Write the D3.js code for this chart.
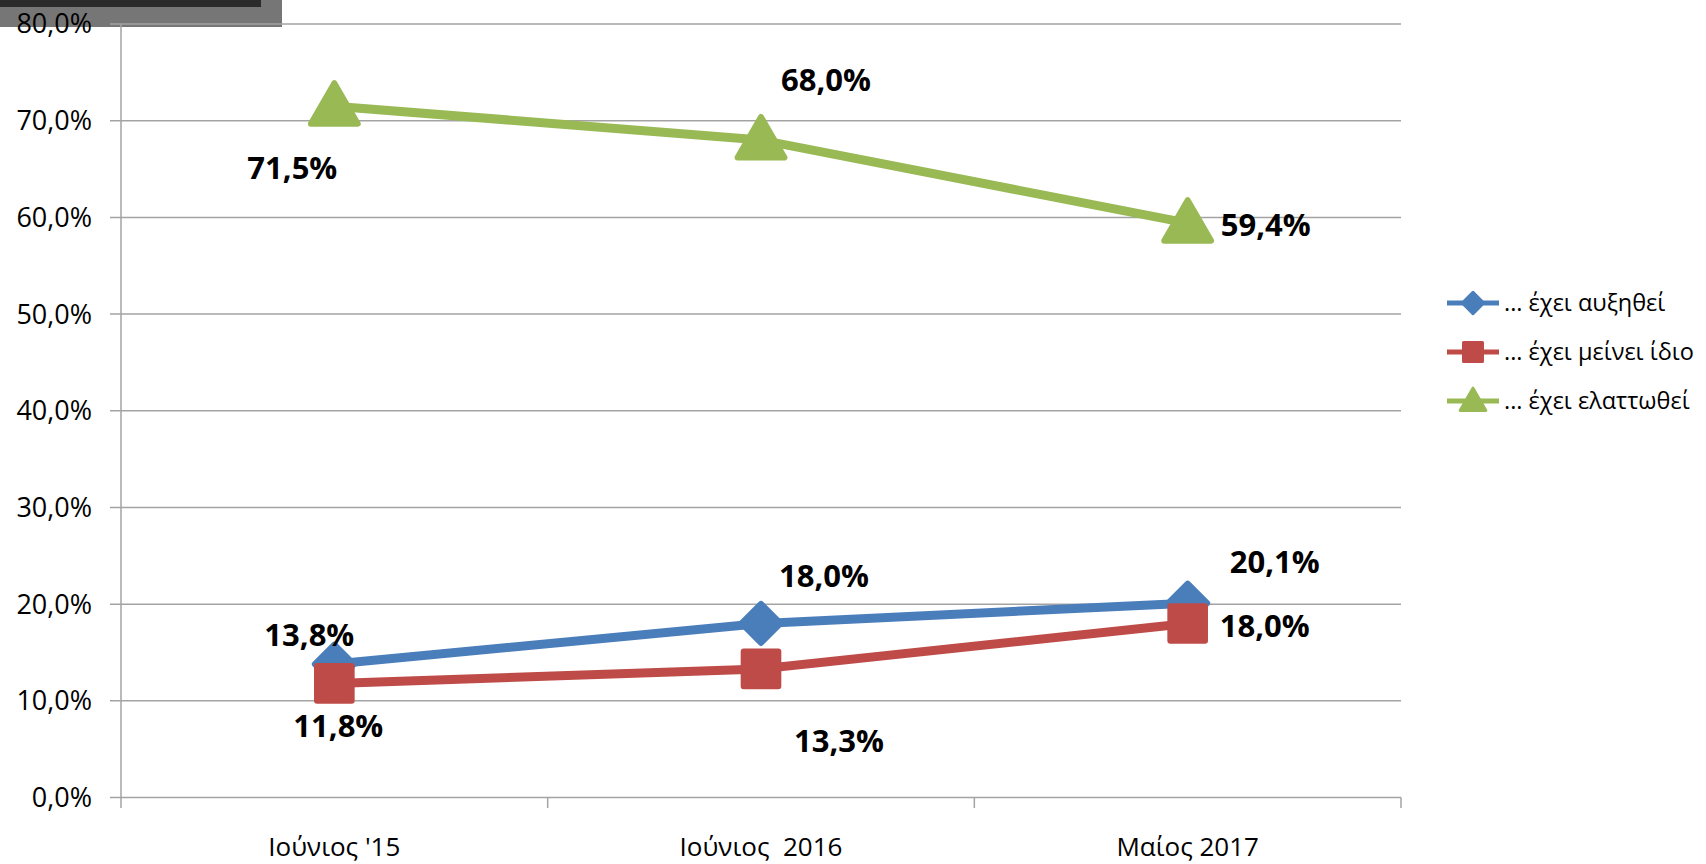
<!DOCTYPE html>
<html>
<head>
<meta charset="utf-8">
<script src="https://cdn.jsdelivr.net/npm/d3@7"></script>
<style>
  body { margin: 0; background: #fff; }
  svg { display: block; font-family: "Open Sans", "DejaVu Sans", sans-serif; }
</style>
</head>
<body>
<div id="plot"></div>
<script>
  // data
  var categories = ["Ιούνιος '15", "Ιούνιος  2016", "Μαίος 2017"];
  var seriesNames = ["... έχει αυξηθεί", "... έχει μείνει ίδιο", "... έχει ελαττωθεί"];
  var increased = [13.8, 18.0, 20.1];
  var same = [11.8, 13.3, 18.0];
  var decreased = [71.5, 68.0, 59.4];
  var yTicks = [0, 10, 20, 30, 40, 50, 60, 70, 80];

  // label placement (px offsets from the point)
  var labelOffsets = [
    [[-25, -29], [63, -47], [87, -41]],
    [[4, 43], [78, 72], [77, 3]],
    [[-42, 62], [65, -60], [78, 2]]
  ];

  var W = 1706, H = 864;

  var svg = d3.select("#plot").append("svg")
    .attr("width", W).attr("height", H);

  var x = d3.scaleBand().domain(categories).range([121, 1401]);
  var y = d3.scaleLinear().domain([0, 80]).range([797.5, 24]);
  var fmt = function(v) { return d3.format(".1f")(v).replace(".", ",") + "%"; };

  var series = [
    {name: seriesNames[0], values: increased, color: "#4a7ebb", shape: d3.symbolSquare, rot: 45, size: 760},
    {name: seriesNames[1], values: same, color: "#be4b48", shape: d3.symbolSquare, rot: 0, size: 1200},
    {name: seriesNames[2], values: decreased, color: "#98b954", shape: d3.symbolTriangle, rot: 0, size: 950}
  ];

  // top-left box
  svg.append("rect").attr("x", 0).attr("y", 0).attr("width", 282).attr("height", 27).attr("fill", "#767676");
  svg.append("rect").attr("x", 0).attr("y", 0).attr("width", 261).attr("height", 7).attr("fill", "#2b2b2b");

  // gridlines
  svg.append("g").selectAll("line").data(yTicks).enter().append("line")
    .attr("x1", 110).attr("x2", 1401)
    .attr("y1", function(d) { return y(d); }).attr("y2", function(d) { return y(d); })
    .attr("stroke", "#a3a3a3").attr("stroke-width", 1.5);

  // y axis line
  svg.append("line").attr("x1", 121).attr("x2", 121).attr("y1", 24).attr("y2", 797.5)
    .attr("stroke", "#a3a3a3").attr("stroke-width", 1.5);

  // y labels
  svg.append("g").selectAll("text").data(yTicks).enter().append("text")
    .attr("x", 92).attr("y", function(d) { return y(d); })
    .attr("dy", "0.35em")
    .attr("text-anchor", "end")
    .attr("font-size", 27)
    .attr("fill", "#000")
    .text(function(d) { return fmt(d); });

  // x axis ticks
  var xt = categories.map(function(c) { return x(c); }).concat([1401]);
  svg.append("g").selectAll("line").data(xt).enter().append("line")
    .attr("x1", function(d) { return d; }).attr("x2", function(d) { return d; })
    .attr("y1", 797.5).attr("y2", 808)
    .attr("stroke", "#a3a3a3").attr("stroke-width", 1.5);

  svg.append("g").selectAll("text").data(categories).enter().append("text")
    .attr("x", function(d) { return x(d) + x.bandwidth() / 2; })
    .attr("y", 847).attr("dy", "0.35em")
    .attr("text-anchor", "middle")
    .attr("font-size", 26)
    .style("white-space", "pre")
    .text(function(d) { return d; });

  var cx = function(i) { return x(categories[i]) + x.bandwidth() / 2; };
  var line = d3.line().x(function(d, i) { return cx(i); }).y(function(d) { return y(d); });

  // draw green first, then blue, then red on top
  [2, 0, 1].forEach(function(si) {
    var s = series[si];
    svg.append("path").datum(s.values)
      .attr("d", line).attr("fill", "none")
      .attr("stroke", s.color).attr("stroke-width", 9)
      .attr("stroke-linejoin", "round");
    svg.append("g").selectAll("path").data(s.values).enter().append("path")
      .attr("d", d3.symbol().type(s.shape).size(s.size))
      .attr("transform", function(d, i) {
        var dy = s.shape === d3.symbolTriangle ? 4 : 0;
        return "translate(" + cx(i) + "," + (y(d) + dy) + ") rotate(" + s.rot + ")";
      })
      .attr("fill", s.color)
      .attr("stroke", s.color).attr("stroke-width", 6).attr("stroke-linejoin", "round");
  });

  // data labels
  series.forEach(function(s, si) {
    svg.append("g").selectAll("text").data(s.values).enter().append("text")
      .attr("x", function(d, i) { return cx(i) + labelOffsets[si][i][0]; })
      .attr("y", function(d, i) { return y(d) + labelOffsets[si][i][1]; })
      .attr("dy", "0.35em")
      .attr("text-anchor", "middle")
      .attr("font-size", 31).attr("font-weight", "bold")
      .text(function(d) { return fmt(d); });
  });

  // legend
  var legend = svg.append("g").selectAll("g").data(series).enter().append("g")
    .attr("transform", function(d, i) { return "translate(1447," + [303, 352, 401][i] + ")"; });
  legend.append("line").attr("x1", 0).attr("x2", 52).attr("y1", 0).attr("y2", 0)
    .attr("stroke", function(d) { return d.color; }).attr("stroke-width", 5);
  legend.append("path")
    .attr("d", function(d) { return d3.symbol().type(d.shape).size(d.size * 0.3)(); })
    .attr("transform", function(d) {
      return "translate(26," + (d.shape === d3.symbolTriangle ? 2 : 0) + ") rotate(" + d.rot + ")";
    })
    .attr("fill", function(d) { return d.color; })
    .attr("stroke", function(d) { return d.color; }).attr("stroke-width", 3).attr("stroke-linejoin", "round");
  legend.append("text").attr("x", 57).attr("dy", "0.35em")
    .attr("font-size", 23.5)
    .text(function(d) { return d.name; });
</script>
</body>
</html>
